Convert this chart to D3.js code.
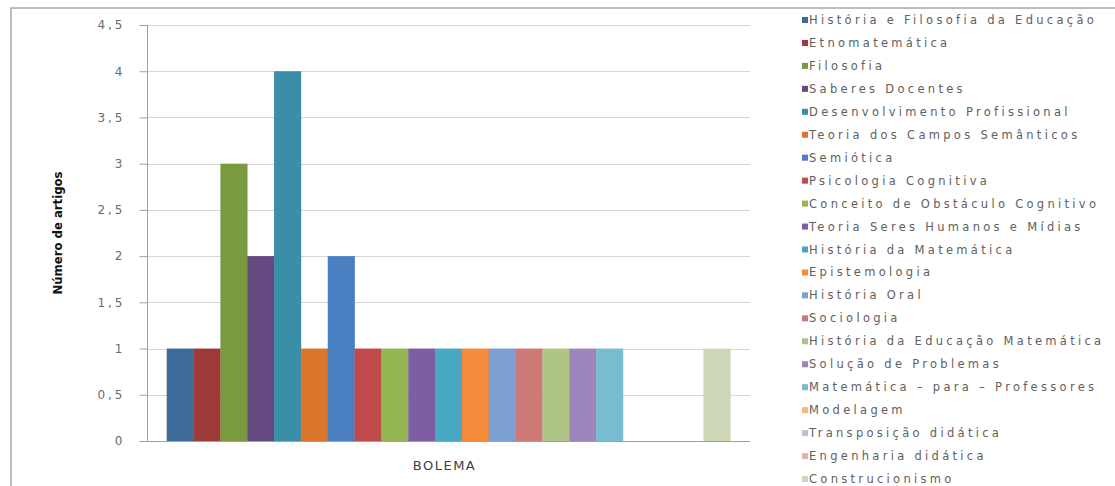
<!DOCTYPE html>
<html>
<head>
<meta charset="utf-8">
<script src="https://cdn.jsdelivr.net/npm/d3@7"></script>
<style>
  body { margin: 0; background: #fff; }
  svg { display: block; }
</style>
</head>
<body>
<div id="chart"></div>
<script>
// categorias (séries) e valores
const categories = ["BOLEMA"];
const seriesNames = [
  "História e Filosofia da Educação",
  "Etnomatemática",
  "Filosofia",
  "Saberes Docentes",
  "Desenvolvimento Profissional",
  "Teoria dos Campos Semânticos",
  "Semiótica",
  "Psicologia Cognitiva",
  "Conceito de Obstáculo Cognitivo",
  "Teoria Seres Humanos e Mídias",
  "História da Matemática",
  "Epistemologia",
  "História  Oral",
  "Sociologia",
  "História da Educação Matemática",
  "Solução de Problemas",
  "Matemática – para – Professores",
  "Modelagem",
  "Transposição didática",
  "Engenharia didática",
  "Construcionismo"
];
const seriesValues = [1, 1, 3, 2, 4, 1, 2, 1, 1, 1, 1, 1, 1, 1, 1, 1, 1, 0, 0, 0, 1];
const seriesColors = [
  "#3d6a99", "#9d3b38", "#7a9a3f", "#654a82", "#3a8ea8", "#d9762b",
  "#4a7fc1", "#c04a49", "#93b552", "#7d5ea3", "#49a8c1", "#f38b3b",
  "#7d9fd2", "#cf7878", "#afc585", "#9c84bc", "#77bcd0", "#f9b584",
  "#b4c2dc", "#dfb1b0", "#cdd6b5"
];
const yTicks = [0, 0.5, 1, 1.5, 2, 2.5, 3, 3.5, 4, 4.5];

const width = 1115, height = 486;
const plot = { left: 147, right: 750, top: 25, bottom: 441 };

const svg = d3.select("#chart").append("svg")
  .attr("width", width)
  .attr("height", height);

// moldura do gráfico
svg.append("path")
  .attr("d", `M11,${height + 5}V8H${width + 5}`)
  .attr("fill", "none")
  .attr("stroke", "#a6a6a6")
  .attr("stroke-width", 1.5);

const y = d3.scaleLinear().domain([0, 4.5]).range([plot.bottom, plot.top]);
const x0 = d3.scaleBand().domain(categories)
  .range([plot.left, plot.right])
  .paddingInner(0).paddingOuter(0.035);
const x1 = d3.scaleBand().domain(d3.range(seriesNames.length))
  .range([0, x0.bandwidth()]).padding(0);

// linhas de grade
svg.append("g")
  .selectAll("line")
  .data(yTicks.filter(d => d > 0))
  .join("line")
  .attr("x1", plot.left).attr("x2", plot.right)
  .attr("y1", d => Math.round(y(d)) + 0.5).attr("y2", d => Math.round(y(d)) + 0.5)
  .attr("stroke", "#d6d6d6");

// barras
const data = seriesNames.map((name, i) => ({ name, i, value: seriesValues[i] }));
svg.append("g")
  .selectAll("g")
  .data(categories)
  .join("g")
  .attr("transform", d => `translate(${x0(d)},0)`)
  .selectAll("rect")
  .data(data.filter(d => d.value > 0))
  .join("rect")
  .attr("x", d => x1(d.i))
  .attr("width", x1.bandwidth() + 0.3)
  .attr("y", d => y(d.value))
  .attr("height", d => y(0) - y(d.value))
  .attr("fill", d => seriesColors[d.i]);

// eixo y
const yAxis = d3.axisLeft(y)
  .tickValues(yTicks)
  .tickSize(8)
  .tickPadding(14)
  .tickFormat(d => String(d).replace(".", ","));
svg.append("g")
  .attr("transform", `translate(${plot.left + 0.5},0)`)
  .call(yAxis)
  .call(g => g.select(".domain").attr("stroke", "#a0a0a0").attr("d", `M0,${plot.top}V${plot.bottom}`))
  .call(g => g.selectAll(".tick line").attr("stroke", "#a0a0a0"))
  .call(g => g.selectAll(".tick text")
    .attr("fill", "#6a6a6a")
    .attr("font-family", "DejaVu Sans, sans-serif")
    .attr("font-size", 12)
    .attr("letter-spacing", 3));

// eixo x
svg.append("line")
  .attr("x1", plot.left).attr("x2", plot.right)
  .attr("y1", plot.bottom + 0.5).attr("y2", plot.bottom + 0.5)
  .attr("stroke", "#a0a0a0");

svg.append("text")
  .attr("x", x0("BOLEMA") + x0.bandwidth() / 2 - 4)
  .attr("y", 470)
  .attr("text-anchor", "middle")
  .attr("fill", "#404040")
  .attr("font-family", "DejaVu Sans, sans-serif")
  .attr("font-size", 13)
  .attr("letter-spacing", 1.5)
  .text("BOLEMA");

// título do eixo y
svg.append("text")
  .attr("transform", `translate(62,233) rotate(-90)`)
  .attr("text-anchor", "middle")
  .attr("fill", "#111")
  .attr("font-family", "DejaVu Sans Condensed, DejaVu Sans, sans-serif")
  .attr("font-stretch", "condensed")
  .attr("font-weight", "bold")
  .attr("font-size", 13)
  .text("Número de artigos");

// legenda
const legend = svg.append("g")
  .selectAll("g")
  .data(data)
  .join("g")
  .attr("transform", (d, i) => `translate(802,${20 + i * 22.95})`);

legend.append("rect")
  .attr("x", 0).attr("y", -3)
  .attr("width", 6).attr("height", 6)
  .attr("fill", d => seriesColors[d.i]);

legend.append("text")
  .attr("x", 7)
  .attr("y", 4)
  .attr("fill", "#606060")
  .attr("font-family", "DejaVu Sans, sans-serif")
  .attr("font-size", 11.5)
  .attr("letter-spacing", 3.3)
  .text(d => d.name);
</script>
</body>
</html>
